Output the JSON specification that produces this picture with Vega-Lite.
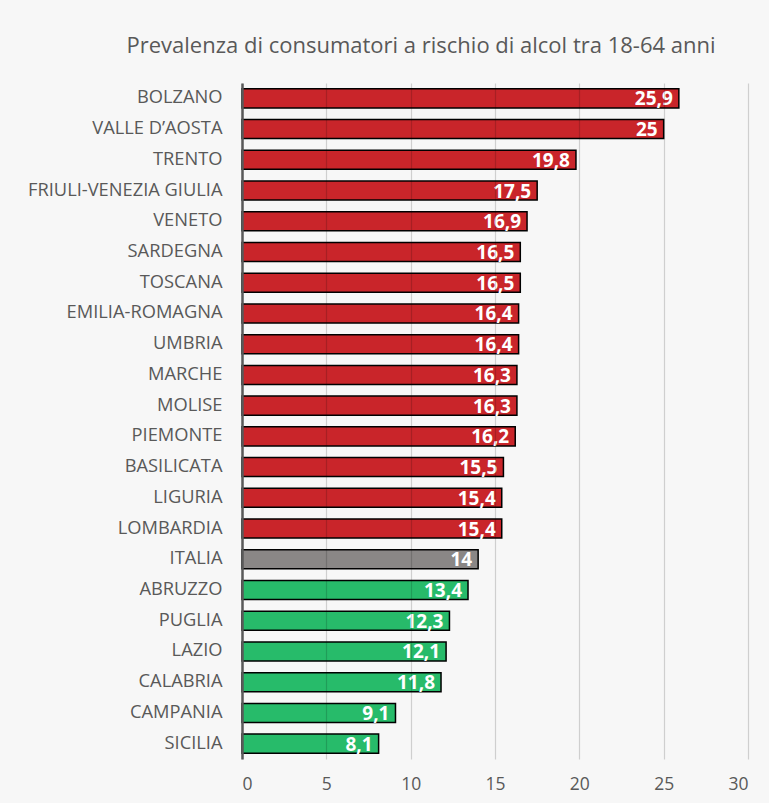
{
  "$schema": "https://vega.github.io/schema/vega-lite/v6.json",
  "width": 506,
  "height": 676,
  "autosize": "none",
  "padding": {"left": 242, "top": 83, "right": 21, "bottom": 44},
  "background": "#f7f7f7",
  "config": {
    "view": {"stroke": null},
    "font": "Open Sans",
    "locale": {"number": {"decimal": ",", "thousands": ".", "grouping": [3], "currency": ["€", ""]}}
  },
  "title": {
    "text": "Prevalenza di consumatori a rischio di alcol tra 18-64 anni",
    "font": "Open Sans",
    "fontSize": 22,
    "fontWeight": "normal",
    "color": "#595959",
    "anchor": "middle",
    "frame": "group",
    "dx": -74,
    "offset": 25
  },
  "data": {
    "values": [
      {"regione": "BOLZANO", "valore": 25.9, "gruppo": "alto"},
      {"regione": "VALLE D’AOSTA", "valore": 25, "gruppo": "alto"},
      {"regione": "TRENTO", "valore": 19.8, "gruppo": "alto"},
      {"regione": "FRIULI-VENEZIA GIULIA", "valore": 17.5, "gruppo": "alto"},
      {"regione": "VENETO", "valore": 16.9, "gruppo": "alto"},
      {"regione": "SARDEGNA", "valore": 16.5, "gruppo": "alto"},
      {"regione": "TOSCANA", "valore": 16.5, "gruppo": "alto"},
      {"regione": "EMILIA-ROMAGNA", "valore": 16.4, "gruppo": "alto"},
      {"regione": "UMBRIA", "valore": 16.4, "gruppo": "alto"},
      {"regione": "MARCHE", "valore": 16.3, "gruppo": "alto"},
      {"regione": "MOLISE", "valore": 16.3, "gruppo": "alto"},
      {"regione": "PIEMONTE", "valore": 16.2, "gruppo": "alto"},
      {"regione": "BASILICATA", "valore": 15.5, "gruppo": "alto"},
      {"regione": "LIGURIA", "valore": 15.4, "gruppo": "alto"},
      {"regione": "LOMBARDIA", "valore": 15.4, "gruppo": "alto"},
      {"regione": "ITALIA", "valore": 14, "gruppo": "italia"},
      {"regione": "ABRUZZO", "valore": 13.4, "gruppo": "basso"},
      {"regione": "PUGLIA", "valore": 12.3, "gruppo": "basso"},
      {"regione": "LAZIO", "valore": 12.1, "gruppo": "basso"},
      {"regione": "CALABRIA", "valore": 11.8, "gruppo": "basso"},
      {"regione": "CAMPANIA", "valore": 9.1, "gruppo": "basso"},
      {"regione": "SICILIA", "valore": 8.1, "gruppo": "basso"}
    ]
  },
  "encoding": {
    "y": {
      "field": "regione",
      "type": "nominal",
      "sort": null,
      "scale": {"paddingInner": 0.38, "paddingOuter": 0.19},
      "axis": {
        "title": null,
        "zindex": 1,
        "ticks": false,
        "labelPadding": 20,
        "labelLimit": 240,
        "labelFontSize": 18.3,
        "labelColor": "#595959",
        "labelFont": "Open Sans",
        "domainColor": "#595959",
        "domainWidth": 2.5,
        "grid": false
      }
    },
    "x": {
      "field": "valore",
      "type": "quantitative",
      "scale": {"domain": [0, 30], "nice": false},
      "axis": {
        "title": null,
        "zindex": 1,
        "values": [0, 5, 10, 15, 20, 25, 30],
        "format": "d",
        "domain": false,
        "ticks": false,
        "grid": true,
        "gridColor": "#000000",
        "gridOpacity": 0.16,
        "gridWidth": 1.2,
        "labelPadding": 16,
        "labelFontSize": 17.5,
        "labelColor": "#595959",
        "labelFont": "Open Sans"
      }
    }
  },
  "layer": [
    {
      "mark": {"type": "bar", "stroke": "#000000", "strokeWidth": 1.5},
      "encoding": {
        "color": {
          "field": "gruppo",
          "type": "nominal",
          "scale": {"domain": ["alto", "italia", "basso"], "range": ["#c9252a", "#8a8786", "#27bb6a"]},
          "legend": null
        }
      }
    },
    {
      "mark": {"type": "text", "align": "right", "baseline": "middle", "dx": -6, "dy": 1, "color": "white", "fontWeight": "bold", "fontSize": 19, "font": "Open Sans"},
      "encoding": {
        "text": {"field": "valore", "type": "quantitative", "format": ".1~f"}
      }
    }
  ]
}
